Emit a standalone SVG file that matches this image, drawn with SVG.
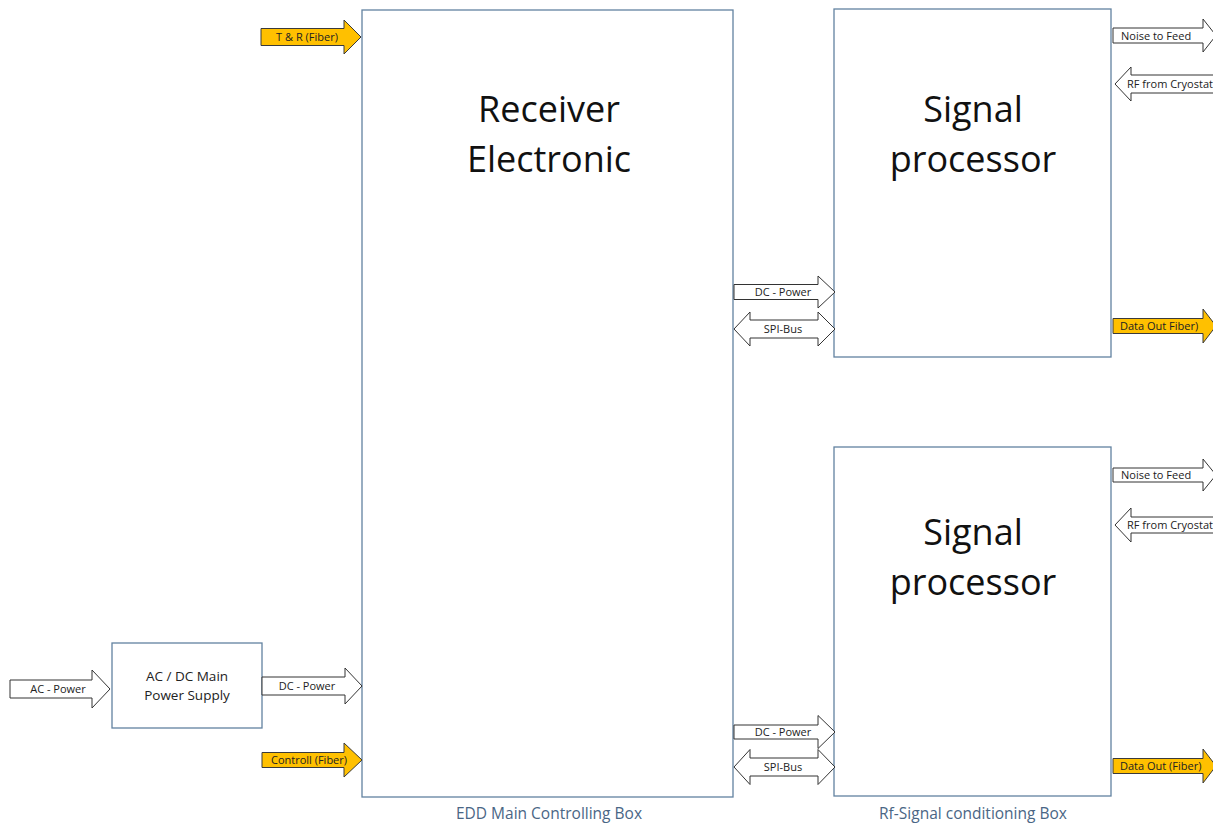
<svg xmlns="http://www.w3.org/2000/svg" width="1213" height="824" viewBox="0 0 1213 824">
<style>
.box{fill:#ffffff;stroke:#6282a0;stroke-width:1.3}
.big{font-family:"Open Sans","Liberation Sans",sans-serif;font-size:36px;fill:#111;text-anchor:middle}
.mid{font-family:"Open Sans","Liberation Sans",sans-serif;font-size:13.5px;fill:#222;text-anchor:middle}
.cap{font-family:"Open Sans","Liberation Sans",sans-serif;font-size:15.5px;fill:#4a6685;text-anchor:middle}
.w{fill:#ffffff;stroke:#333;stroke-width:1}
.y{fill:#ffc000;stroke:#3a3a3a;stroke-width:1}
.lbl{font-family:"Open Sans","Liberation Sans",sans-serif;font-size:11px;fill:#222;text-anchor:middle}
.lbls{font-family:"Open Sans","Liberation Sans",sans-serif;font-size:11px;fill:#222}
</style>
<rect width="1213" height="824" fill="#ffffff"/>
<g id="main-box">
<rect class="box" x="362" y="10" width="371" height="787"/>
<text class="big" x="549" y="122">Receiver</text>
<text class="big" x="549" y="172">Electronic</text>
<text class="cap" x="549" y="819">EDD Main Controlling Box</text>
</g>
<g id="signal-processor-1">
<rect class="box" x="834" y="9" width="277" height="348"/>
<text class="big" x="973" y="122">Signal</text>
<text class="big" x="973" y="172">processor</text>
</g>
<g id="signal-processor-2">
<rect class="box" x="834" y="447" width="277" height="349"/>
<text class="big" x="973" y="545">Signal</text>
<text class="big" x="973" y="595">processor</text>
<text class="cap" x="973" y="819">Rf-Signal conditioning Box</text>
</g>
<g id="power-supply">
<rect class="box" x="112" y="643" width="150" height="85"/>
<text class="mid" x="187" y="681">AC / DC Main</text>
<text class="mid" x="187" y="700">Power Supply</text>
</g>
<g id="connectors">
<polygon class="y" points="261,28.5 344,28.5 344,20 361,37 344,54 344,45.5 261,45.5"/>
<text class="lbl" x="307" y="41">T &amp; R  (Fiber)</text>
<polygon class="y" points="262,752.5 344,752.5 344,743 362,760 344,777 344,767.5 262,767.5"/>
<text class="lbl" x="309" y="764">Controll (Fiber)</text>
<polygon class="w" points="262,677 345,677 345,668 362,686 345,704 345,695 262,695"/>
<text class="lbl" x="307" y="690">DC - Power</text>
<polygon class="w" points="10,680 92,680 92,670 110,689 92,708 92,698 10,698"/>
<text class="lbl" x="58" y="693">AC - Power</text>
<polygon class="w" points="734,284.5 818,284.5 818,276 835,292 818,308 818,299.5 734,299.5"/>
<text class="lbl" x="783" y="296">DC - Power</text>
<polygon class="w" points="734,329 750,312 750,320 818,320 818,312 835,329 818,346 818,338 750,338 750,346"/>
<text class="lbl" x="783" y="333">SPI-Bus</text>
<polygon class="w" points="734,725 818,725 818,715.5 835,732 818,748.5 818,739 734,739"/>
<text class="lbl" x="783" y="736">DC - Power</text>
<polygon class="w" points="734,767 750,749.5 750,758 818,758 818,749.5 835,767 818,784.5 818,776 750,776 750,784.5"/>
<text class="lbl" x="783" y="771">SPI-Bus</text>
<polygon class="w" points="1113,28 1203,28 1203,19 1216,35.5 1203,52 1203,43 1113,43"/>
<text class="lbls" x="1121" y="39.5">Noise to Feed</text>
<polygon class="w" points="1115,84 1131,67 1131,75 1240,75 1240,93 1131,93 1131,101"/>
<text class="lbls" x="1127" y="88">RF from Cryostat</text>
<polygon class="y" points="1113,318.5 1203,318.5 1203,309 1216,326 1203,343 1203,333.5 1113,333.5"/>
<text class="lbls" x="1120" y="330">Data Out Fiber)</text>
<polygon class="w" points="1113,468 1203,468 1203,459 1216,475 1203,491 1203,482 1113,482"/>
<text class="lbls" x="1121" y="479">Noise to Feed</text>
<polygon class="w" points="1115,525 1131,508 1131,517 1240,517 1240,533 1131,533 1131,542"/>
<text class="lbls" x="1127" y="529">RF from Cryostat</text>
<polygon class="y" points="1113,758.5 1203,758.5 1203,749 1216,766 1203,783 1203,773.5 1113,773.5"/>
<text class="lbls" x="1120" y="770">Data Out (Fiber)</text>
</g>
</svg>
